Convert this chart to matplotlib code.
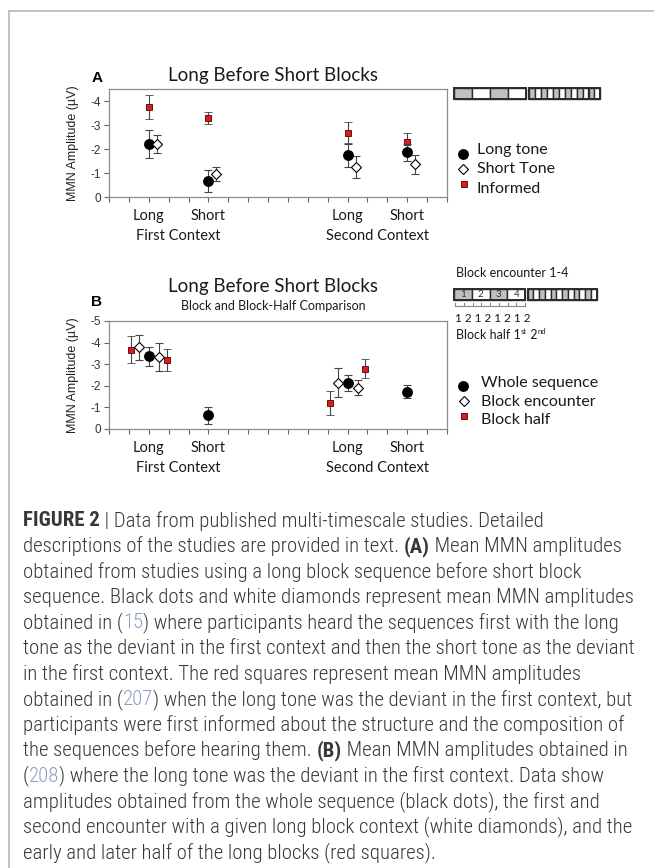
import matplotlib
matplotlib.use('Agg')
import matplotlib.pyplot as plt
from matplotlib.lines import Line2D
from matplotlib.patches import Rectangle
from matplotlib import font_manager

W, H = 654, 868

# ---- data (amplitudes in microvolts, negative = larger MMN) ----
cond_labels = ['Long', 'Short', 'Long', 'Short']
context_labels = ['First Context', 'Second Context']

# panel A
a_long_tone = [-2.21, -0.67, -1.74, -1.86]
a_long_tone_err = [0.60, 0.45, 0.48, 0.35]
a_short_tone = [-2.20, -0.96, -1.24, -1.36]
a_short_tone_err = [0.37, 0.31, 0.45, 0.40]
a_informed = [-3.76, -3.31, -2.68, -2.28]
a_informed_err = [0.49, 0.25, 0.45, 0.37]
a_legend = ['Long tone', 'Short Tone', 'Informed']

# panel B
b_whole = [-3.37, -0.64, -2.14, -1.73]
b_whole_err = [0.44, 0.40, 0.38, 0.30]
# block encounter 1st / 2nd, for the two long conditions
b_encounter = [[-3.78, -3.34], [-2.14, -1.91]]
b_encounter_err = [[0.58, 0.65], [0.67, 0.35]]
# block half 1st / 2nd, for the two long conditions
b_half = [[-3.68, -3.20], [-1.20, -2.80]]
b_half_err = [[0.61, 0.51], [0.56, 0.42]]
b_legend = ['Whole sequence', 'Block encounter', 'Block half']

a_yticks = [0, -1, -2, -3, -4]
b_yticks = [0, -1, -2, -3, -4, -5]

# ---- layout ----
cond_x = [2, 5, 12, 15]
long_idx = [0, 2]
context_x = [3.5, 13.5]

LABEL_FONT = 'Lato'
TICK_FONT = 'Liberation Sans'
RED = '#e3171f'
ECOL = '#454545'


def fx(px):
    return px / W


def fy(py):
    return 1 - py / H


def px_box(left, top, right, bottom):
    return [fx(left), fy(bottom), (right - left) / W, (bottom - top) / H]


fig = plt.figure(figsize=(W / 100, H / 100), dpi=100)
fig.patch.set_facecolor('white')
renderer = fig.canvas.get_renderer()

# frame lines around figure + caption
fig.add_artist(Line2D([fx(9), 1], [fy(10.5), fy(10.5)], color='#b3b3b3', lw=1.1))
fig.add_artist(Line2D([fx(9), fx(9)], [fy(10.5), 0], color='#b3b3b3', lw=1.1))

circle_kw = dict(fmt='o', ms=6.8, mfc='black', mec='black')
diamond_kw = dict(fmt='D', ms=4.6, mfc='white', mec='black', mew=0.8)
square_kw = dict(fmt='s', ms=5, mfc=RED, mec='#4a0000', mew=0.6)
err_kw = dict(ecolor=ECOL, elinewidth=0.8, capsize=2.6, capthick=0.8, ls='none')


def setup_axes(ax, ymax, yticks):
    ax.set_xlim(0, 17)
    ax.set_ylim(0, ymax)
    ax.set_xticks(range(0, 18))
    ax.set_xticklabels([])
    ax.set_yticks(yticks)
    ax.set_yticklabels([str(t) for t in yticks], family=TICK_FONT, fontsize=8.5, color='#333333')
    ax.tick_params(direction='out', length=3.5, width=0.8, color='#666666', pad=2)
    for s in ax.spines.values():
        s.set_color('#8c8c8c')
        s.set_linewidth(0.9)
    for x, lab in zip(cond_x, cond_labels):
        ax.annotate(lab, xy=(x, 0), xycoords=('data', 'axes fraction'), xytext=(0, -13.7),
                    textcoords='offset points', ha='center', va='center',
                    family=LABEL_FONT, fontsize=10.5, color='#1a1a1a')
    for x, lab in zip(context_x, context_labels):
        ax.annotate(lab, xy=(x, 0), xycoords=('data', 'axes fraction'), xytext=(0, -28.2),
                    textcoords='offset points', ha='center', va='center',
                    family=LABEL_FONT, fontsize=10.5, color='#1a1a1a')


def legend_rows(rows):
    for (mx, my, kind), (tx, ty, label) in rows:
        kw = {'o': circle_kw, 'D': diamond_kw, 's': square_kw}[kind]
        fig.add_artist(Line2D([fx(mx)], [fy(my)], marker=kind, ms=kw['ms'], mfc=kw['mfc'],
                              mec=kw['mec'], mew=kw.get('mew', 1), ls='none'))
        fig.text(fx(tx), fy(ty), label, family=LABEL_FONT, fontsize=11.5,
                 ha='left', va='center', color='#1a1a1a')


def block_bar(left, top, bottom, long_w, gap, short_n, short_w, numbers=False):
    for i in range(4):
        c = '#c0c0c0' if i % 2 == 0 else 'white'
        x0 = left + i * long_w
        fig.add_artist(Rectangle((fx(x0), fy(bottom)), long_w / W, (bottom - top) / H,
                                 fc=c, ec='#2b2b2b', lw=1.0))
        if numbers:
            fig.text(fx(x0 + long_w / 2), fy((top + bottom) / 2), str(i + 1),
                     family=LABEL_FONT, fontsize=7, ha='center', va='center', color='#333333')
    s0 = left + 4 * long_w + gap
    for i in range(short_n):
        c = '#c0c0c0' if i % 2 == 0 else 'white'
        fig.add_artist(Rectangle((fx(s0 + i * short_w), fy(bottom)), short_w / W, (bottom - top) / H,
                                 fc=c, ec='#2b2b2b', lw=1.0))
    fig.add_artist(Rectangle((fx(left), fy(bottom)), 4 * long_w / W, (bottom - top) / H,
                             fc='none', ec='#2b2b2b', lw=1.4))
    fig.add_artist(Rectangle((fx(s0), fy(bottom)), short_n * short_w / W, (bottom - top) / H,
                             fc='none', ec='#2b2b2b', lw=1.4))


# ================= panel A =================
axA = fig.add_axes(px_box(109, 89, 447, 197))
setup_axes(axA, -4.5, a_yticks)
axA.errorbar(cond_x, a_informed, yerr=a_informed_err, **square_kw, **err_kw, zorder=3)
axA.errorbar(cond_x, a_long_tone, yerr=a_long_tone_err, **circle_kw, **err_kw, zorder=4)
axA.errorbar([x + 0.4 for x in cond_x], a_short_tone, yerr=a_short_tone_err,
             **diamond_kw, **err_kw, zorder=4)

fig.text(fx(97), fy(78), 'A', family=TICK_FONT, weight='bold', fontsize=11, ha='center', va='center')
fig.text(fx(273), fy(76), 'Long Before Short Blocks', family=LABEL_FONT, fontsize=13.5,
         ha='center', va='center', color='#1a1a1a')
fig.text(fx(73), fy(143), 'MMN Amplitude (\u00b5V)', family=TICK_FONT, fontsize=9,
         rotation=90, ha='center', va='center', color='#222222')

legend_rows([((463, 154, 'o'), (477, 150, a_legend[0])),
             ((463, 169, 'D'), (477, 169, a_legend[1])),
             ((464, 184, 's'), (477, 189, a_legend[2]))])

block_bar(454, 88, 99, 18, 3, 12, 5.95)

# ================= panel B =================
axB = fig.add_axes(px_box(109, 321, 447, 429))
setup_axes(axB, -5, b_yticks)
half_x, half_y, half_e = [], [], []
enc_x, enc_y, enc_e = [], [], []
for k, i in enumerate(long_idx):
    half_x += [cond_x[i] - 0.9, cond_x[i] + 0.9]
    half_y += b_half[k]
    half_e += b_half_err[k]
    enc_x += [cond_x[i] - 0.5, cond_x[i] + 0.5]
    enc_y += b_encounter[k]
    enc_e += b_encounter_err[k]
axB.errorbar(half_x, half_y, yerr=half_e, **square_kw, **err_kw, zorder=3)
axB.errorbar(enc_x, enc_y, yerr=enc_e, **diamond_kw, **err_kw, zorder=4)
axB.errorbar(cond_x, b_whole, yerr=b_whole_err, **circle_kw, **err_kw, zorder=5)

fig.text(fx(97), fy(302), 'B', family=TICK_FONT, weight='bold', fontsize=11, ha='center', va='center')
fig.text(fx(273), fy(287), 'Long Before Short Blocks', family=LABEL_FONT, fontsize=13.5,
         ha='center', va='center', color='#1a1a1a')
fig.text(fx(273), fy(306), 'Block and Block-Half Comparison', family=LABEL_FONT, fontsize=9,
         ha='center', va='center', color='#1a1a1a')
fig.text(fx(73), fy(375), 'MMN Amplitude (\u00b5V)', family=TICK_FONT, fontsize=9,
         rotation=90, ha='center', va='center', color='#222222')

legend_rows([((463, 386, 'o'), (481, 383, b_legend[0])),
             ((464, 401, 'D'), (481, 402, b_legend[1])),
             ((464, 416, 's'), (481, 420, b_legend[2]))])

fig.text(fx(456), fy(273), 'Block encounter 1-4', family=LABEL_FONT, fontsize=9,
         ha='left', va='center', color='#1a1a1a')
block_bar(454, 289, 300, 17.8, 2.5, 12, 5.75, numbers=True)
# half-block brackets under the long blocks
fig.add_artist(Line2D([fx(455), fx(525)], [fy(306), fy(306)], color='#888888', lw=0.8))
for i in range(9):
    xx = 455 + i * 70 / 8
    fig.add_artist(Line2D([fx(xx), fx(xx)], [fy(306), fy(303)], color='#888888', lw=0.8))
fig.text(fx(455), fy(319), '1 2 1 2 1 2 1 2', family=LABEL_FONT, fontsize=8.5,
         ha='left', va='center', color='#1a1a1a')


def text_runs(x_px, y_px, runs, family, size, base_weight='normal'):
    x = x_px
    bar = fig.text(0, 0, '|', family=family, fontsize=size)
    for txt, weight, color, dy, scale in runs:
        wgt = base_weight if weight == 'normal' else weight
        t = fig.text(fx(x), fy(y_px + dy), txt, family=family, fontsize=size * scale,
                     weight=wgt, color=color, ha='left', va='center')
        bar.set_fontsize(size * scale)
        bar.set_fontweight(wgt)
        bar.set_text(txt + '|')
        w1 = bar.get_window_extent(renderer).width
        bar.set_text('|')
        w0 = bar.get_window_extent(renderer).width
        x += w1 - w0
    bar.remove()


text_runs(456, 335, [('Block half 1', 'normal', '#1a1a1a', 0, 1.0),
                     ('st', 'normal', '#1a1a1a', -3, 0.62),
                     (' 2', 'normal', '#1a1a1a', 0, 1.0),
                     ('nd', 'normal', '#1a1a1a', -3, 0.62)], LABEL_FONT, 9)

# ================= caption =================
available = {f.name for f in font_manager.fontManager.ttflist}
cap_font = 'Roboto'
for cand in ['Liberation Sans Narrow', 'Roboto Condensed', 'Open Sans Condensed', 'Roboto']:
    if cand in available:
        cap_font = cand
        break

TXT = '#383838'
LINK = '#8aa0c2'
n, b = 'normal', 'bold'
caption = [
    [('FIGURE 2', b, TXT), (' | Data from published multi-timescale studies. Detailed', n, TXT)],
    [('descriptions of the studies are provided in text. ', n, TXT), ('(A)', b, TXT),
     (' Mean MMN amplitudes', n, TXT)],
    [('obtained from studies using a long block sequence before short block', n, TXT)],
    [('sequence. Black dots and white diamonds represent mean MMN amplitudes', n, TXT)],
    [('obtained in (', n, TXT), ('15', n, LINK),
     (') where participants heard the sequences first with the long', n, TXT)],
    [('tone as the deviant in the first context and then the short tone as the deviant', n, TXT)],
    [('in the first context. The red squares represent mean MMN amplitudes', n, TXT)],
    [('obtained in (', n, TXT), ('207', n, LINK),
     (') when the long tone was the deviant in the first context, but', n, TXT)],
    [('participants were first informed about the structure and the composition of', n, TXT)],
    [('the sequences before hearing them. ', n, TXT), ('(B)', b, TXT),
     (' Mean MMN amplitudes obtained in', n, TXT)],
    [('(', n, TXT), ('208', n, LINK),
     (') where the long tone was the deviant in the first context. Data show', n, TXT)],
    [('amplitudes obtained from the whole sequence (black dots), the first and', n, TXT)],
    [('second encounter with a given long block context (white diamonds), and the', n, TXT)],
    [('early and later half of the long blocks (red squares).', n, TXT)],
]

# fit caption size so the longest line spans the text column
probe = fig.text(0, 0, caption[5][0][0], family=cap_font, fontsize=10, weight='light')
w10 = probe.get_window_extent(renderer).width
probe.remove()
cap_size = 10 * 611 / w10

for i, line in enumerate(caption):
    text_runs(23, 521 + i * 25.5, [(t, wgt, c, 0, 1.0) for t, wgt, c in line], cap_font, cap_size,
              base_weight='light')

fig.savefig('out.png', dpi=100, facecolor='white')
